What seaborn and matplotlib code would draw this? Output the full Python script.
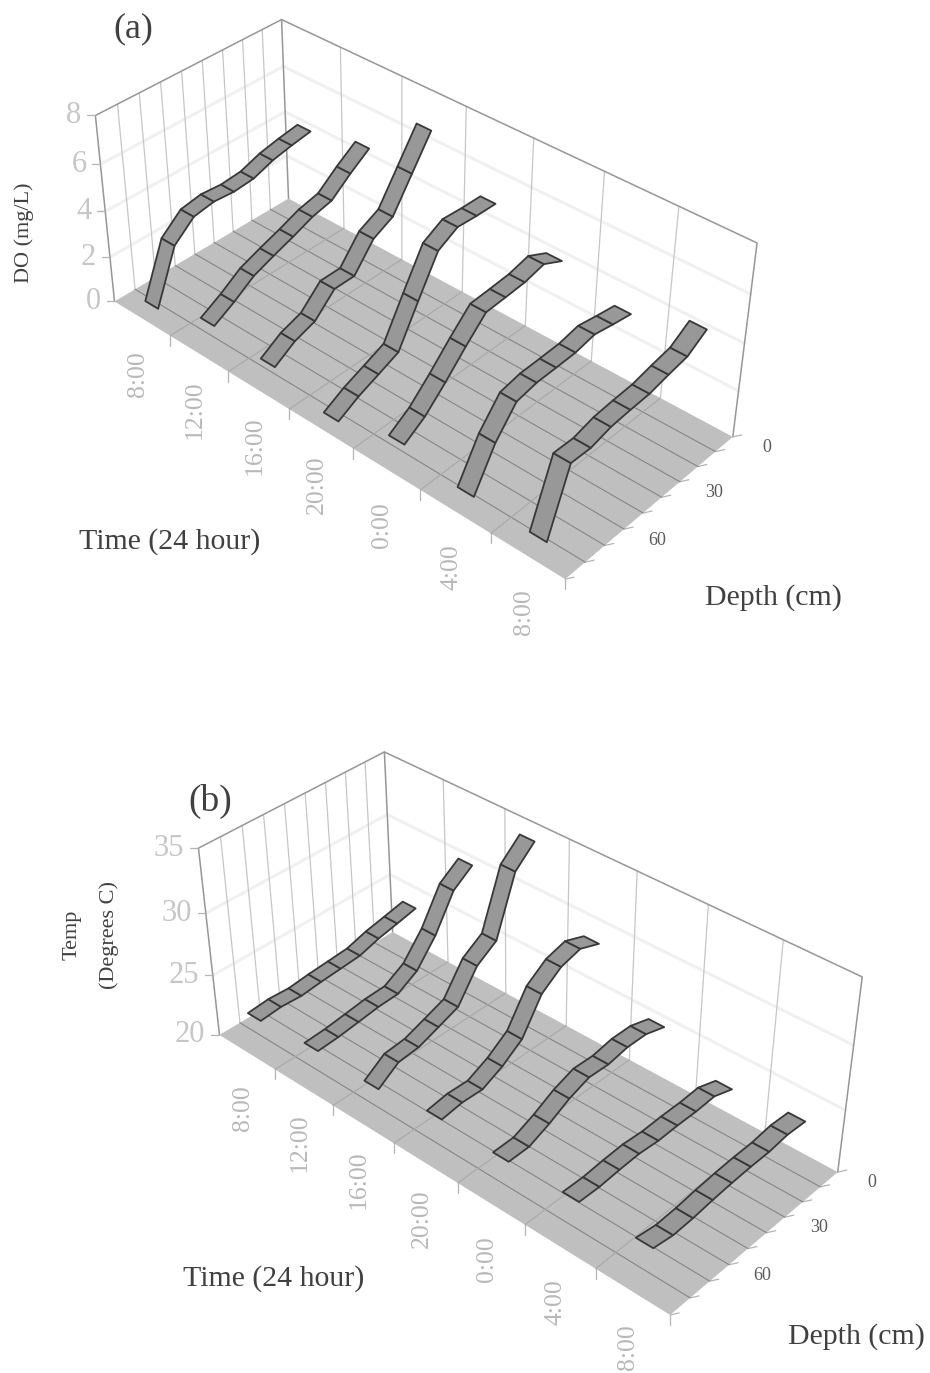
import numpy as np
import pandas as pd
import seaborn as sns
import matplotlib.pyplot as plt

# values, each row is one sampling time, deepest first
depth_cm = [80, 70, 60, 50, 40, 30, 20, 10, 0]
time_labels = ['8:00', '12:00', '16:00', '20:00', '0:00', '4:00', '8:00']
depth_labels = ['0', '30', '60']

do_8am = [0.33, 2.60, 3.35, 3.50, 3.43, 3.51, 3.82, 4.00, 4.14]
do_12pm = [1.12, 1.62, 2.21, 2.55, 2.86, 3.21, 3.41, 4.09, 4.69]
do_16pm = [0.91, 1.46, 1.76, 2.60, 2.61, 3.68, 4.11, 5.43, 6.75]
do_20pm = [0.20, 0.68, 1.04, 1.41, 3.04, 4.62, 5.09, 5.04, 5.03]
do_0am = [0.94, 1.51, 2.35, 3.27, 4.12, 4.18, 4.25, 4.46, 4.05]
do_4am = [0.50, 2.14, 3.23, 3.40, 3.42, 3.45, 3.62, 3.46, 3.32]
do_8am2 = [0.46, 3.09, 3.06, 3.28, 3.35, 3.39, 3.57, 3.72, 4.25]

temp_8am = [22.43, 22.58, 22.49, 22.67, 22.79, 22.92, 23.41, 23.74, 24.09]
temp_12pm = [22.82, 22.92, 23.12, 23.34, 23.41, 24.33, 26.26, 28.98, 30.10]
temp_16pm = [22.68, 23.79, 23.94, 24.52, 25.12, 27.42, 28.45, 32.92, 34.34]
temp_20pm = [23.33, 23.57, 23.51, 24.27, 25.38, 27.92, 29.05, 29.49, 28.92]
temp_0am = [23.17, 23.19, 23.87, 24.73, 25.30, 25.24, 25.53, 25.51, 25.03]
temp_4am = [23.34, 23.30, 23.44, 23.52, 23.38, 23.43, 23.41, 23.50, 22.95]
temp_8am2 = [23.21, 22.94, 23.01, 23.19, 23.31, 23.38, 23.38, 23.57, 23.46]

do_series = [do_8am, do_12pm, do_16pm, do_20pm, do_0am, do_4am, do_8am2]
temp_series = [temp_8am, temp_12pm, temp_16pm, temp_20pm, temp_0am, temp_4am, temp_8am2]
do_ticks = [0, 2, 4, 6, 8]
temp_ticks = [20, 25, 30, 35]

sns.set_style('white')
plt.rcParams['font.family'] = ['Liberation Serif', 'DejaVu Serif']


def fit_projection(corners):
    # perspective of the box, fitted on its visible corners (time cell, depth cell, value, px, py)
    rows, rhs = [], []
    for t, d, v, u, w in corners:
        rows.append([t, d, v, 1, 0, 0, 0, 0, -u*t, -u*d, -u*v])
        rows.append([0, 0, 0, 0, t, d, v, 1, -w*t, -w*d, -w*v])
        rhs += [u, w]
    sol = np.linalg.lstsq(np.array(rows, float), np.array(rhs, float), rcond=None)[0]
    return np.append(sol, 1).reshape(3, 4)


def draw_lines(ax, segs, color, lw, zorder):
    rows = []
    for n, seg in enumerate(segs):
        for x, y in seg:
            rows.append({'x': x, 'y': y, 'seg': n})
    sns.lineplot(data=pd.DataFrame(rows), x='x', y='y', units='seg', estimator=None, sort=False,
                 color=color, lw=lw, zorder=zorder, ax=ax, legend=False)


def draw_panel(ax, corners, series, ticks, vmin, vmax):
    P = fit_projection(corners)

    def proj(t, d, val):
        q = P @ np.array([t, d, (val - vmin) / (vmax - vmin), 1.0])
        return q[0] / q[2], q[1] / q[2]

    nt, nd = len(series), len(depth_cm)

    ax.fill(*zip(proj(0, 0, vmin), proj(nt, 0, vmin), proj(nt, nd, vmin), proj(0, nd, vmin)),
            color='#bfbfbf', lw=0, zorder=1)

    # walls
    draw_lines(ax, [[proj(0, nd, v), proj(0, 0, v), proj(nt, 0, v)] for v in ticks[1:-1]], '#f0f0f0', 2.2, 0.5)
    walls = [[proj(0, d, vmin), proj(0, d, vmax)] for d in range(1, nd)]
    walls += [[proj(t, 0, vmin), proj(t, 0, vmax)] for t in range(1, nt)]
    draw_lines(ax, walls, '#c6c6c6', 0.9, 0.6)
    frame = [[proj(0, nd, vmin), proj(0, nd, vmax), proj(0, 0, vmax), proj(nt, 0, vmax), proj(nt, 0, vmin)],
             [proj(0, 0, vmin), proj(0, 0, vmax)]]
    draw_lines(ax, frame, '#969696', 1.1, 0.7)

    # floor grid
    draw_lines(ax, [[proj(0, d, vmin), proj(nt, d, vmin)] for d in range(1, nd)], '#858585', 0.8, 2)
    draw_lines(ax, [[proj(t, 0, vmin), proj(t, nd, vmin)] for t in range(1, nt)], '#a8a8a8', 0.8, 2)

    # tick marks
    marks = []
    for t in range(1, nt + 1):
        x, y = proj(t, nd, vmin)
        marks.append([(x, y), (x, y + 10)])
    for d in range(nd + 1):
        x, y = proj(nt, d, vmin)
        marks.append([(x, y), (x + 9, y - 2)])
    for v in ticks:
        x, y = proj(0, nd, v)
        marks.append([(x, y), (x - 8, y)])
    draw_lines(ax, marks, '#b4b4b4', 0.9, 1.5)

    # ribbons, one quad per depth step
    half = 0.115
    for k, vals in enumerate(series):
        tc = k + 0.5
        for i in range(nd - 1):
            d0 = depth_cm[i] / 10 + 0.5
            d1 = depth_cm[i + 1] / 10 + 0.5
            quad = [proj(tc - half, d0, vals[i]), proj(tc + half, d0, vals[i]),
                    proj(tc + half, d1, vals[i + 1]), proj(tc - half, d1, vals[i + 1])]
            ax.fill(*zip(*quad), facecolor='#989898', edgecolor='#383838', lw=1.3,
                    joinstyle='round', zorder=3 + k)

    # tick labels
    for v in ticks:
        x, y = proj(0, nd, v)
        ax.text(x - 14, y, str(v), ha='right', va='center', fontsize=22, color='#c6c6c6')
    for k, lab in enumerate(time_labels):
        x, y = proj(k + 0.5, nd, vmin)
        ax.text(x - 4, y + 56, lab, rotation=90, ha='center', va='center', fontsize=18.5, color='#b8b8b8')
    for lab in depth_labels:
        x, y = proj(nt, int(lab) / 10 + 0.5, vmin)
        ax.text(x + 43, y + 3, lab, ha='center', va='center', fontsize=13, color='#5a5a5a')


corners_a = [(0, 9, 0, 115, 302), (7, 9, 0, 565, 579), (7, 0, 0, 733, 437), (0, 0, 0, 288, 198),
             (0, 9, 1, 95, 115), (0, 0, 1, 282, 20), (7, 0, 1, 757, 243)]
corners_b = [(0, 9, 0, 220, 1035), (7, 9, 0, 670, 1315), (7, 0, 0, 838, 1172), (0, 0, 0, 392, 932),
             (0, 9, 1, 198, 848), (0, 0, 1, 385, 752), (7, 0, 1, 862, 977)]

fig = plt.figure(figsize=(9.3, 13.73), dpi=100)
ax = fig.add_axes([0, 0, 1, 1])

draw_panel(ax, corners_a, do_series, do_ticks, 0, 8)
draw_panel(ax, corners_b, temp_series, temp_ticks, 20, 35)

txt = '#404040'
ax.text(133, 29, '(a)', ha='center', va='center', fontsize=26, color=txt)
ax.text(24, 233, 'DO (mg/L)', rotation=90, ha='center', va='center', fontsize=16, color=txt)
ax.text(170, 542, 'Time (24 hour)', ha='center', va='center', fontsize=21.5, color=txt)
ax.text(773, 598, 'Depth (cm)', ha='center', va='center', fontsize=21.5, color=txt)

ax.text(210, 801, '(b)', ha='center', va='center', fontsize=27, color=txt)
ax.text(72, 935, 'Temp', rotation=90, ha='center', va='center', fontsize=16, color=txt)
ax.text(109, 935, '(Degrees C)', rotation=90, ha='center', va='center', fontsize=16, color=txt)
ax.text(274, 1279, 'Time (24 hour)', ha='center', va='center', fontsize=21.5, color=txt)
ax.text(856, 1337, 'Depth (cm)', ha='center', va='center', fontsize=21.5, color=txt)

ax.set_xlim(0, 930)
ax.set_ylim(1373, 0)
ax.set_axis_off()
fig.savefig('out.png', dpi=100)
